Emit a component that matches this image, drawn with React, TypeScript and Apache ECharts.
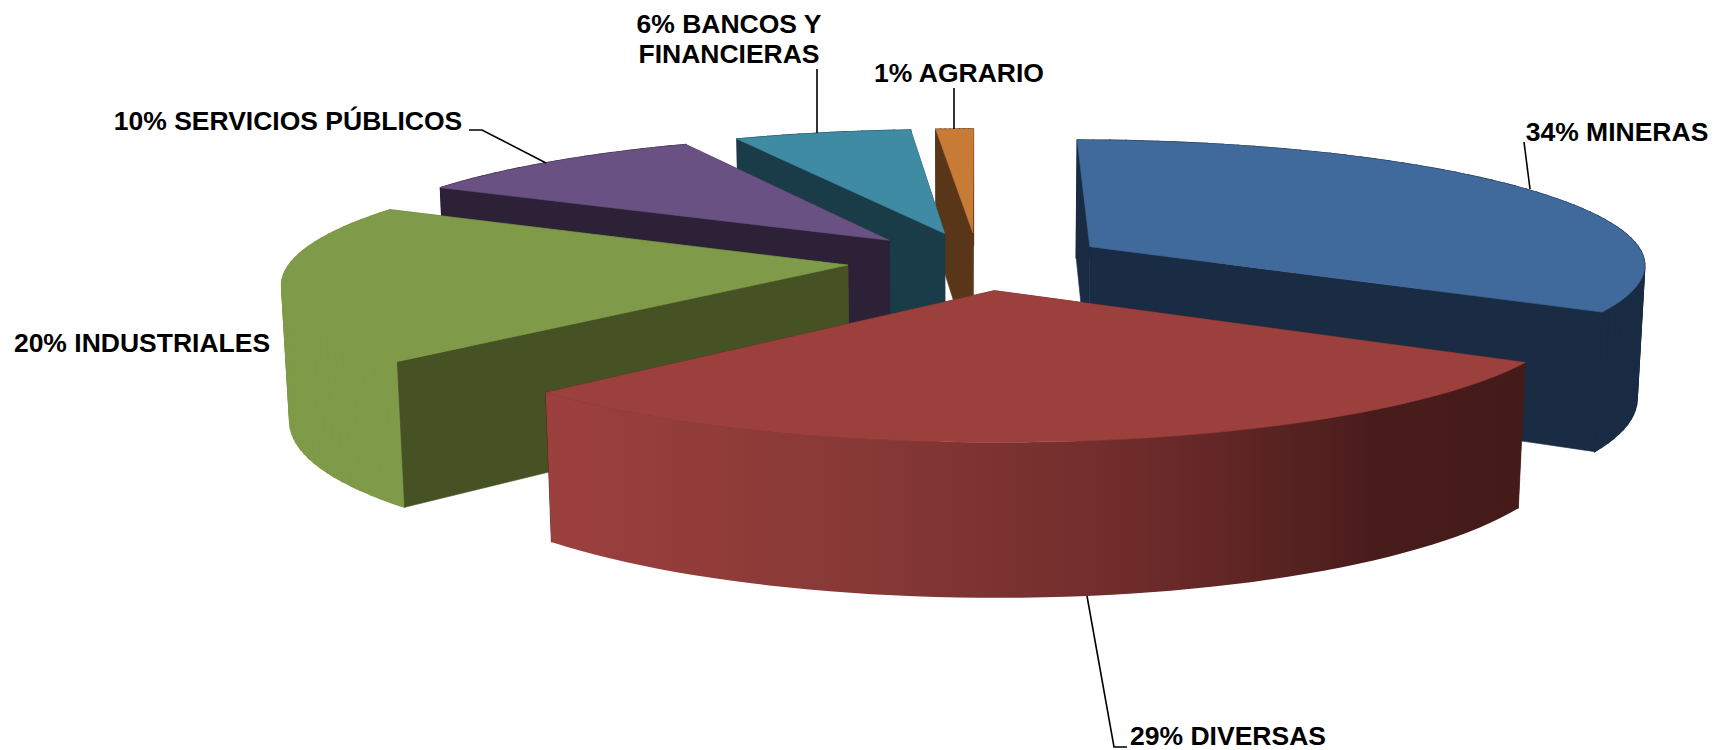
import React, { useEffect, useRef } from "react";
import * as echarts from "echarts";

const categories = ["MINERAS", "DIVERSAS", "INDUSTRIALES", "SERVICIOS PÚBLICOS", "BANCOS Y FINANCIERAS", "AGRARIO"];
const shares = [33.5, 29.1, 20.2, 10.05, 5.9, 1.25];
const topColors = ["#406A9B", "#9C403E", "#7F9A48", "#695283", "#3E8BA3", "#C87A37"];
const cutColors = ["#1A2C44", "#441B19", "#465224", "#2C2137", "#1A3C48", "#5A3618"];
const drawOrder = [5, 4, 3, 0, 2, 1];

const labelTexts = [
  { text: "34% MINERAS", x: 1617, y: 132 },
  { text: "29% DIVERSAS", x: 1228, y: 736 },
  { text: "20% INDUSTRIALES", x: 142, y: 343 },
  { text: "10% SERVICIOS PÚBLICOS", x: 288, y: 121 },
  { text: "6% BANCOS Y\nFINANCIERAS", x: 729, y: 39 },
  { text: "1% AGRARIO", x: 959, y: 73 },
];
const leaders = [
  [[1524, 142], [1530, 189]],
  [[1087, 596], [1114, 747], [1127, 747]],
  [[469, 130], [482, 130], [546, 163]],
  [[817, 69], [817, 133]],
  [[954, 88], [954, 129]],
];

// Perspective camera fitted to the picture (reference units, scaled by K)
const K = 1717 / 1568;
const CAM = { x0: 893, yv: -640, H: 6824, G: 3950, D: 7.77, c: 0.09, M: 1035 };
const EXPLODE = 0.235;
const total = shares.reduce((a, b) => a + b, 0);

function project(u: number, v: number, z: number): number[] {
  const w = CAM.D - v + CAM.c * z;
  return [(CAM.x0 + (CAM.G * u) / w) * K, (CAM.yv + (CAM.H + CAM.M * z) / w) * K];
}

function area(pts: number[][]): number {
  let s = 0;
  for (let i = 0; i < pts.length; i++) {
    const a = pts[i];
    const b = pts[(i + 1) % pts.length];
    s += a[0] * b[1] - b[0] * a[1];
  }
  return s;
}

function poly(points: number[][], fill: any, lineWidth = 0.6) {
  return {
    type: "polygon",
    shape: { points },
    style: { fill, stroke: typeof fill === "string" ? fill : "none", lineWidth },
    silent: true,
  };
}

const redRim = () =>
  new echarts.graphic.LinearGradient(0, 0, 1, 0, [
    { offset: 0, color: "#9C403E" },
    { offset: 0.35, color: "#853835" },
    { offset: 0.6, color: "#6F2C2B" },
    { offset: 0.85, color: "#481C1B" },
    { offset: 1, color: "#441B19" },
  ]);

function renderSlice(params: any, api: any) {
  const i = api.value(1) as number;
  const before = shares.slice(0, i).reduce((a, b) => a + b, 0);
  const t0 = (before / total) * Math.PI * 2;
  const t1 = t0 + (api.value(0) / total) * Math.PI * 2;
  const mid = (t0 + t1) / 2;
  const cu = Math.sin(mid) * EXPLODE;
  const cv = -Math.cos(mid) * EXPLODE;
  const at = (t: number, z: number) => project(cu + Math.sin(t), cv - Math.cos(t), z);

  const steps = Math.max(8, Math.round((t1 - t0) * 30));
  const topRim: number[][] = [];
  const botRim: number[][] = [];
  for (let s = 0; s <= steps; s++) {
    const t = t0 + ((t1 - t0) * s) / steps;
    topRim.push(at(t, 0));
    botRim.push(at(t, 1));
  }
  const apexTop = project(cu, cv, 0);
  const apexBot = project(cu, cv, 1);
  const cutStart = [apexTop, topRim[0], botRim[0], apexBot];
  const cutEnd = [apexTop, topRim[steps], botRim[steps], apexBot];
  const cut = cutColors[i];
  const startVisible = area(cutStart) < 0;
  const endVisible = area(cutEnd) > 0;

  const children: any[] = [];
  if (!startVisible) children.push(poly(cutStart, cut));
  if (!endVisible) children.push(poly(cutEnd, cut));
  if (i === 1) {
    children.push(poly([...topRim, ...botRim.slice().reverse()], redRim()));
  } else {
    const rimColor = i === 2 ? topColors[i] : cut;
    for (let s = 0; s < steps; s++) {
      children.push(poly([topRim[s], topRim[s + 1], botRim[s + 1], botRim[s]], rimColor, 1.4));
    }
  }
  if (startVisible) children.push(poly(cutStart, cut));
  if (endVisible) children.push(poly(cutEnd, cut));
  children.push(poly([apexTop, ...topRim], topColors[i]));
  return { type: "group", children };
}

export default function App() {
  const ref = useRef<HTMLDivElement>(null);
  useEffect(() => {
    document.body.style.margin = "0";
    const chart = echarts.init(ref.current!, undefined, { renderer: "svg" });
    chart.setOption({
      animation: false,
      backgroundColor: "#ffffff",
      series: [
        {
          type: "custom",
          coordinateSystem: "none",
          renderItem: renderSlice,
          silent: true,
          data: drawOrder.map((i) => ({ name: categories[i], value: [shares[i], i] })),
        },
      ],
      graphic: [
        ...leaders.map((pts) => ({
          type: "polyline",
          shape: { points: pts },
          style: { stroke: "#000000", lineWidth: 1.6, fill: "none" },
          silent: true,
          z: 10,
        })),
        ...labelTexts.map((l) => ({
          type: "text",
          x: l.x,
          y: l.y,
          silent: true,
          z: 11,
          style: {
            text: l.text,
            fill: "#000000",
            font: 'bold 26.5px "Liberation Sans", Arial, sans-serif',
            align: "center",
            verticalAlign: "middle",
            lineHeight: 30,
          },
        })),
      ],
    });
    return () => chart.dispose();
  }, []);
  return <div ref={ref} style={{ width: 1717, height: 750 }} />;
}
